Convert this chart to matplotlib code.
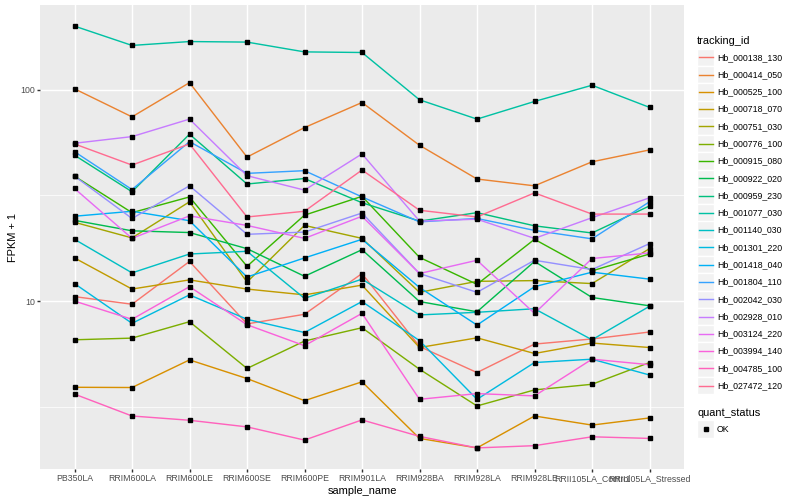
import numpy as np
import matplotlib
matplotlib.use("Agg")
import matplotlib.pyplot as plt
from matplotlib.patches import Rectangle
from matplotlib.lines import Line2D

plt.rcParams['font.family'] = ['Liberation Sans', 'DejaVu Sans']

# -------------------------------
# data (FPKM + 1)
# -------------------------------
sample_name = ["PB350LA", "RRIM600LA", "RRIM600LE", "RRIM600SE", "RRIM600PE",
               "RRIM901LA", "RRIM928BA", "RRIM928LA", "RRIM928LE",
               "RRII105LA_Control", "RRII105LA_Stressed"]

hb_000138_130 = [10.5, 9.66, 15.4, 7.8, 8.66, 13.5, 6.1, 4.59, 6.26, 6.62, 7.14]
hb_000414_050 = [101, 74.4, 108, 48, 66.2, 87, 54.6, 37.8, 35.1, 45.6, 51.9]
hb_000525_100 = [3.91, 3.9, 5.27, 4.3, 3.38, 4.15, 2.24, 2.02, 2.86, 2.59, 2.8]
hb_000718_070 = [16, 11.4, 12.6, 11.4, 10.7, 11.9, 6.03, 6.7, 5.65, 6.33, 6.03]
hb_000751_030 = [23.6, 19.9, 29.5, 12.3, 22.8, 19.8, 11.0, 12.4, 12.5, 12.1, 17.7]
hb_000776_100 = [6.56, 6.68, 7.99, 4.8, 6.47, 7.48, 4.76, 3.19, 3.8, 4.04, 5.12]
hb_000915_080 = [39, 26.2, 31.1, 14.6, 25.5, 31.3, 16.1, 12.0, 19.6, 13.9, 16.7]
hb_000922_020 = [24.1, 21.5, 21.1, 17.7, 13.1, 17.5, 9.95, 8.9, 15.4, 10.4, 9.5]
hb_000959_230 = [49, 32.9, 61.6, 35.8, 38, 29.2, 23.9, 26.2, 22.7, 21, 28.2]
hb_001077_030 = [200, 162, 169, 168, 151, 150, 89.6, 72.6, 88, 105, 82.5]
hb_001140_030 = [19.6, 13.6, 16.7, 17.2, 10.3, 12.7, 8.6, 8.85, 9.2, 6.56, 9.45]
hb_001301_220 = [12.1, 7.85, 10.7, 8.2, 7.1, 9.95, 6.5, 3.43, 5.12, 5.31, 4.47]
hb_001418_040 = [25.2, 26.6, 24, 13, 16, 19.6, 11.6, 7.7, 11.7, 13.7, 12.7]
hb_001804_110 = [50.9, 33.7, 56.8, 40.2, 41.4, 31.1, 23.7, 24.6, 21.6, 19.7, 29.5]
hb_002042_030 = [39, 24.6, 35.1, 20.7, 21.2, 26.1, 13.5, 11.0, 15.6, 14.1, 18.7]
hb_002928_010 = [55.8, 60, 72.6, 39.2, 33.5, 49.7, 23.9, 24.4, 19.8, 24.8, 30.8]
hb_003124_220 = [34.1, 19.8, 25.3, 22.8, 19.8, 25.2, 13.5, 15.6, 8.75, 15.9, 16.9]
hb_003994_140 = [10, 8.2, 11.7, 7.73, 6.15, 8.75, 3.43, 3.65, 3.56, 5.31, 5.0]
hb_004785_100 = [3.63, 2.86, 2.73, 2.54, 2.2, 2.74, 2.29, 2.02, 2.07, 2.28, 2.24]
hb_027472_120 = [55.4, 44, 55.4, 25, 26.6, 41.7, 26.9, 25, 32.5, 25.8, 25.8]

tracking_id = ["Hb_000138_130", "Hb_000414_050", "Hb_000525_100", "Hb_000718_070",
               "Hb_000751_030", "Hb_000776_100", "Hb_000915_080", "Hb_000922_020",
               "Hb_000959_230", "Hb_001077_030", "Hb_001140_030", "Hb_001301_220",
               "Hb_001418_040", "Hb_001804_110", "Hb_002042_030", "Hb_002928_010",
               "Hb_003124_220", "Hb_003994_140", "Hb_004785_100", "Hb_027472_120"]
series = [hb_000138_130, hb_000414_050, hb_000525_100, hb_000718_070, hb_000751_030,
          hb_000776_100, hb_000915_080, hb_000922_020, hb_000959_230, hb_001077_030,
          hb_001140_030, hb_001301_220, hb_001418_040, hb_001804_110, hb_002042_030,
          hb_002928_010, hb_003124_220, hb_003994_140, hb_004785_100, hb_027472_120]

# ggplot hue palette, 20 levels
palette = ["#F8766D", "#EA8331", "#D89000", "#C09B00", "#A3A500", "#7CAE00",
           "#39B600", "#00BB4E", "#00BF7D", "#00C1A3", "#00BFC4", "#00BAE0",
           "#00B0F6", "#35A2FF", "#9590FF", "#C77CFF", "#E76BF3", "#FA62DB",
           "#FF62BC", "#FF6C91"]

W, H = 800, 500
PX = 72.0 / 100.0   # one ggplot "pt" at 72 dpi, in points at 100 dpi
LW = 1.42 * PX
MS = 3.3 * PX

fig = plt.figure(figsize=(W / 100, H / 100), dpi=100)
ax = fig.add_axes([40 / W, 1 - 469 / H, (684 - 40) / W, (469 - 5) / H])
ax.set_facecolor("#EBEBEB")

x = np.arange(len(sample_name))
for vals, col in zip(series, palette):
    ax.plot(x, vals, color=col, lw=LW, zorder=3, solid_capstyle='butt')
for vals in series:
    ax.plot(x, vals, ls='none', marker='s', ms=MS, color='black', zorder=4)

ax.set_yscale('log')
ax.set_yticks([10, 100])
ax.set_yticklabels(["10", "100"])
ax.set_yticks([10 ** 0.5, 10 ** 1.5, 10 ** 2.5], minor=True)
ax.set_xticks(x)
ax.set_xticklabels(sample_name)

# limits last (set_yticks would widen them), ggplot-like 5% expansion in log space
allv = np.log10(np.concatenate([np.array(s, float) for s in series]))
lo, hi = allv.min(), allv.max()
pad = 0.05 * (hi - lo)
ax.set_ylim(10 ** (lo - pad), 10 ** (hi + pad))
ax.set_xlim(-0.6, len(sample_name) - 1 + 0.6)

ax.grid(True, which='major', color='white', lw=LW, zorder=0)
ax.grid(True, which='minor', axis='y', color='white', lw=LW / 2, zorder=0)
ax.set_axisbelow(True)
for sp in ax.spines.values():
    sp.set_visible(False)
ax.tick_params(which='major', length=2.75 * PX, width=LW, color='#333333',
               labelsize=8.8 * PX, labelcolor='#4D4D4D', pad=2.2 * PX)
ax.tick_params(which='minor', length=0)
ax.set_xlabel("sample_name", fontsize=11 * PX, labelpad=2.75 * PX)
ax.set_ylabel("FPKM + 1", fontsize=11 * PX, labelpad=2.75 * PX)

# -------------------------------
# legends (drawn by hand, pixel placement)
# -------------------------------
def fx(px):
    return px / W

def fy(py):
    return 1 - py / H

key = 17.28
kx = 697
fig.text(fx(kx), fy(40.7), "tracking_id", fontsize=11 * PX, va='center', ha='left')
top = 48.7
for i, (name, col) in enumerate(zip(tracking_id, palette)):
    y0 = top + i * key
    fig.patches.append(Rectangle((fx(kx), fy(y0 + key)), key / W, key / H,
                                 transform=fig.transFigure, facecolor='#F2F2F2',
                                 edgecolor='white', lw=LW))
    yc = fy(y0 + key / 2)
    fig.lines.append(Line2D([fx(kx + 1.7), fx(kx + key - 1.7)], [yc, yc],
                            transform=fig.transFigure, color=col, lw=LW))
    fig.text(fx(kx + key + 2.5), yc, name, fontsize=8.8 * PX, va='center', ha='left')

fig.text(fx(kx), fy(412.7), "quant_status", fontsize=11 * PX, va='center', ha='left')
y0 = 420.4
fig.patches.append(Rectangle((fx(kx), fy(y0 + key)), key / W, key / H,
                             transform=fig.transFigure, facecolor='#F2F2F2',
                             edgecolor='white', lw=LW))
yc = fy(y0 + key / 2)
fig.lines.append(Line2D([fx(kx + key / 2)], [yc], transform=fig.transFigure,
                        ls='none', marker='s', ms=MS, color='black'))
fig.text(fx(kx + key + 2.5), yc, "OK", fontsize=8.8 * PX, va='center', ha='left')

fig.savefig("out.png", dpi=100)
